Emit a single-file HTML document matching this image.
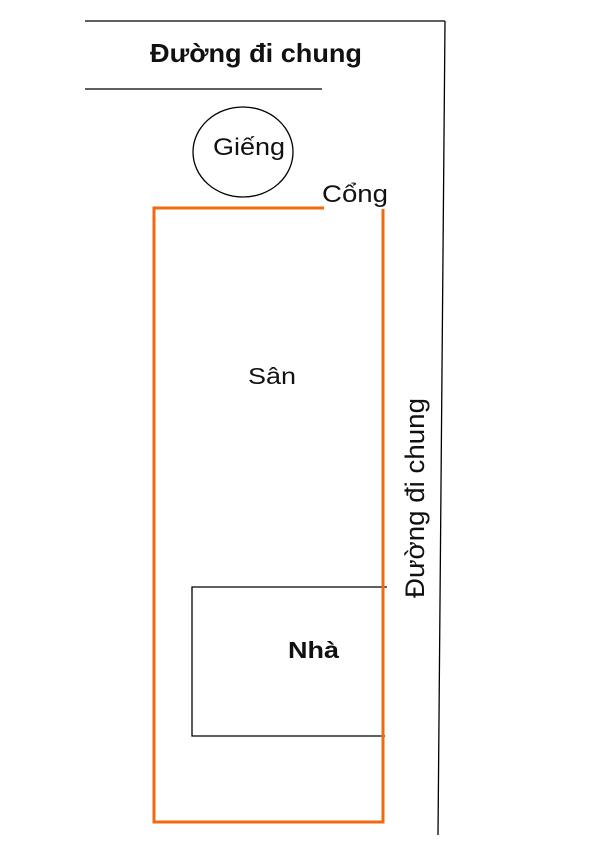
<!DOCTYPE html>
<html><head><meta charset="utf-8"><style>
body{margin:0;width:614px;height:846px;background:#fff;overflow:hidden}
text{font-family:"Liberation Sans","DejaVu Sans",sans-serif;fill:#111}
</style></head><body>
<svg width="614" height="846" viewBox="0 0 614 846" xmlns="http://www.w3.org/2000/svg">
<g stroke="#000" stroke-width="1.3" fill="none">
<line x1="85" y1="21" x2="445" y2="21"/>
<line x1="85" y1="89" x2="322" y2="89"/>
<line x1="445" y1="21" x2="438" y2="835"/>
<ellipse cx="243" cy="152" rx="50" ry="45"/>
<polyline points="387,587 192,587 192,736 385,736"/>
</g>
<g stroke="#f26a10" stroke-width="3" fill="none">
<polyline points="324,208 154,208 154,822 383,822 383,209"/>
</g>
<text x="150" y="62" font-size="26" font-weight="bold" textLength="212" lengthAdjust="spacingAndGlyphs">Đường đi chung</text>
<text x="213" y="155" font-size="24" textLength="72" lengthAdjust="spacingAndGlyphs">Giếng</text>
<text x="322" y="202" font-size="24" textLength="66" lengthAdjust="spacingAndGlyphs">Cổng</text>
<text x="248" y="384" font-size="23" textLength="48" lengthAdjust="spacingAndGlyphs">Sân</text>
<text x="288" y="658" font-size="23" font-weight="bold" textLength="51" lengthAdjust="spacingAndGlyphs">Nhà</text>
<text transform="translate(424,598) rotate(-90)" font-size="27" textLength="200" lengthAdjust="spacingAndGlyphs">Đường đi chung</text>
</svg>
</body></html>
